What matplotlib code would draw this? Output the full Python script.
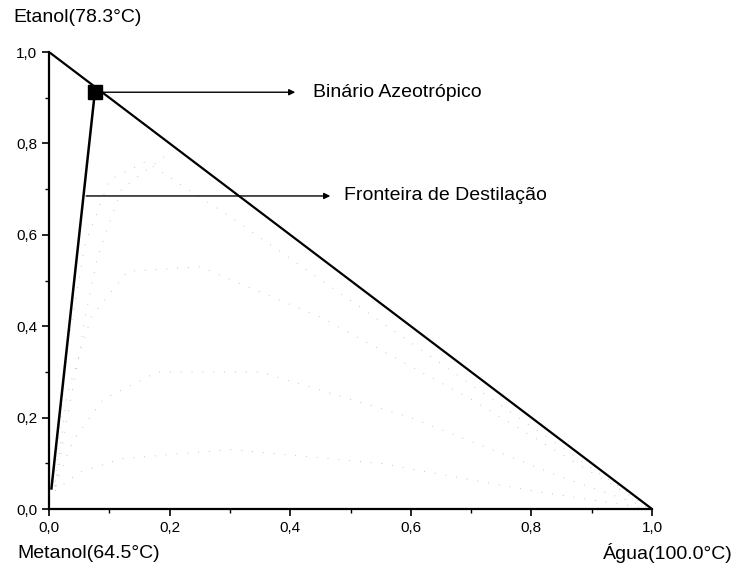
import numpy as np
import matplotlib
matplotlib.use('Agg')
import matplotlib.pyplot as plt
from matplotlib.ticker import MultipleLocator, FuncFormatter

plt.rcParams['font.family'] = ['Liberation Sans', 'DejaVu Sans']

# vertices / azeotrope
azeo_x = 0.076
azeo_y = 0.912
# fronteira de destilacao (do azeotropo ate perto do metanol)
bound_x = [0.076, 0.004]
bound_y = [0.912, 0.045]

# curvas residuais (pontilhadas, estimadas da figura)
curves = [
    ([0.01, 0.03, 0.06, 0.10, 0.16, 0.30, 0.55, 0.80, 1.0],
     [0.06, 0.35, 0.58, 0.72, 0.76, 0.64, 0.41, 0.18, 0.0]),
    ([0.01, 0.03, 0.07, 0.13, 0.25, 0.45, 0.70, 0.90, 1.0],
     [0.05, 0.25, 0.42, 0.52, 0.53, 0.42, 0.24, 0.08, 0.0]),
    ([0.01, 0.04, 0.09, 0.18, 0.35, 0.60, 0.85, 1.0],
     [0.05, 0.15, 0.24, 0.30, 0.30, 0.20, 0.07, 0.0]),
    ([0.01, 0.05, 0.12, 0.30, 0.55, 0.80, 1.0],
     [0.04, 0.08, 0.11, 0.13, 0.10, 0.04, 0.0]),
    ([0.012, 0.02, 0.03, 0.045, 0.06, 0.08, 0.12, 0.20],
     [0.05, 0.12, 0.20, 0.30, 0.42, 0.55, 0.70, 0.78]),
]

ticks = [0.0, 0.2, 0.4, 0.6, 0.8, 1.0]

fig = plt.figure(figsize=(7.35, 5.66), dpi=100)
ax = fig.add_axes([0.0667, 0.1007, 0.8204, 0.8074])

for cx, cy in curves:
    ax.plot(cx, cy, color='0.7', lw=0.6, linestyle=(0, (1, 12)))

# hipotenusa
ax.plot([0, 1], [1, 0], color='black', lw=1.6)
# fronteira
ax.plot(bound_x, bound_y, color='black', lw=1.8)
ax.plot([azeo_x], [azeo_y], marker='s', color='black', markersize=10)

ax.annotate('', xy=(0.413, azeo_y), xytext=(azeo_x, azeo_y),
            arrowprops=dict(arrowstyle='-|>', color='black', lw=1.0, mutation_scale=9))
ax.text(0.438, azeo_y, 'Binário Azeotrópico', fontsize=14, va='center', ha='left')

ax.annotate('', xy=(0.471, 0.685), xytext=(0.057, 0.685),
            arrowprops=dict(arrowstyle='-|>', color='black', lw=1.0, mutation_scale=9))
ax.text(0.49, 0.685, 'Fronteira de Destilação', fontsize=14, va='center', ha='left')

ax.set_xlim(0, 1)
ax.set_ylim(0, 1)
ax.set_xticks(ticks)
ax.set_yticks(ticks)
fmt = FuncFormatter(lambda v, p: f'{v:.1f}'.replace('.', ','))
ax.xaxis.set_major_formatter(fmt)
ax.yaxis.set_major_formatter(fmt)
ax.xaxis.set_minor_locator(MultipleLocator(0.1))
ax.yaxis.set_minor_locator(MultipleLocator(0.1))
ax.tick_params(which='major', direction='out', length=5, width=1.2, labelsize=11)
ax.tick_params(which='minor', direction='out', length=3, width=1.0)
for s in ['top', 'right']:
    ax.spines[s].set_visible(False)
for s in ['left', 'bottom']:
    ax.spines[s].set_linewidth(1.6)

fig.text(13 / 735, 1 - 18 / 566, 'Etanol(78.3°C)', fontsize=14, va='center', ha='left')
fig.text(17 / 735, 1 - 553 / 566, 'Metanol(64.5°C)', fontsize=14, va='center', ha='left')
fig.text(733 / 735, 1 - 553 / 566, 'Água(100.0°C)', fontsize=14, va='center', ha='right')

fig.savefig('out.png', dpi=100)
